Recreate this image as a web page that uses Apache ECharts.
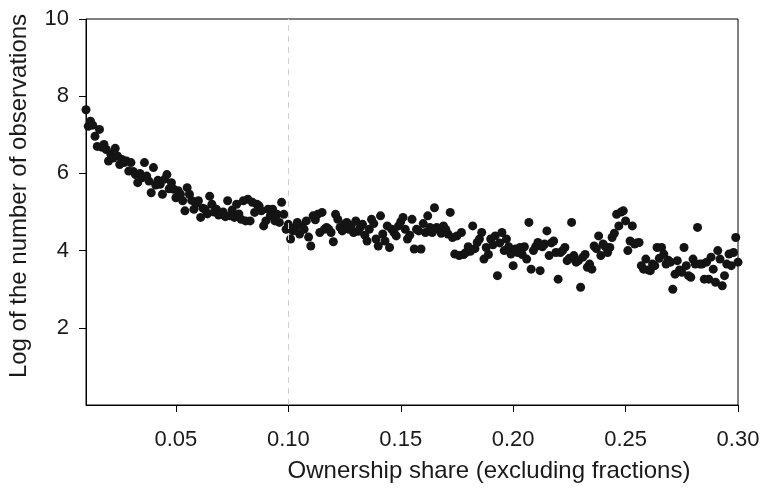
<!DOCTYPE html>
<html>
<head>
<meta charset="utf-8">
<script src="https://cdn.jsdelivr.net/npm/echarts@6/dist/echarts.min.js"></script>
<style>
  html, body { margin: 0; padding: 0; background: #fff; }
  #chart { width: 762px; height: 491px; }
</style>
</head>
<body>
<div id="chart"></div>
<script>
// Ownership shares from 0.010 to 0.300 in steps of 0.001
const shareStart = 0.010;
const shareStep = 0.001;

// Log of the number of observations at each ownership share
const logObs = [
  7.65, 7.22, 7.35, 7.25, 6.96, 6.70, 7.14, 6.68, 6.75, 6.62,
  6.32, 6.50, 6.40, 6.65, 6.45, 6.23, 6.36, 6.28, 6.32, 6.06,
  6.28, 6.05, 5.97, 5.76, 6.00, 5.89, 6.28, 5.93, 5.80, 5.50,
  6.15, 5.70, 5.82, 5.72, 5.46, 5.85, 5.97, 5.60, 5.76, 5.59,
  5.37, 5.55, 5.46, 5.29, 5.03, 5.63, 5.46, 5.30, 5.07, 5.22,
  5.29, 4.86, 5.10, 5.07, 4.95, 5.41, 5.20, 5.00, 5.07, 4.92,
  4.94, 5.00, 4.88, 5.29, 4.90, 5.05, 4.86, 5.20, 4.95, 4.81,
  5.29, 4.77, 5.33, 4.77, 5.25, 4.99, 5.20, 5.16, 5.03, 4.64,
  4.77, 5.07, 4.90, 5.07, 4.77, 4.94, 4.73, 5.25, 4.94, 4.55,
  4.68, 4.30, 4.51, 4.60, 4.73, 4.43, 4.64, 4.55, 4.77, 4.35,
  4.12, 4.90, 4.80, 4.94, 4.47, 4.99, 4.55, 4.60, 4.55, 4.47,
  4.23, 4.94, 4.81, 4.60, 4.51, 4.68, 4.73, 4.55, 4.65, 4.47,
  4.77, 4.50, 4.60, 4.68, 4.40, 4.25, 4.55, 4.81, 4.70, 4.30,
  4.12, 4.90, 4.43, 4.25, 4.64, 4.08, 4.55, 4.47, 4.38, 4.64,
  4.75, 4.86, 4.55, 4.30, 4.40, 4.81, 4.04, 4.55, 4.51, 4.04,
  4.70, 4.47, 4.90, 4.60, 4.47, 5.11, 4.60, 4.55, 4.45, 4.64,
  4.55, 4.43, 4.99, 4.34, 3.91, 4.38, 3.87, 4.47, 3.90, 3.95,
  4.10, 3.98, 4.64, 4.05, 4.21, 4.30, 4.47, 3.78, 4.08, 3.90,
  4.30, 4.15, 4.38, 3.35, 4.20, 4.47, 4.00, 4.30, 4.10, 3.91,
  3.61, 4.04, 3.95, 4.08, 3.90, 4.10, 3.78, 4.73, 3.52, 4.00,
  4.10, 4.21, 3.48, 4.10, 4.17, 4.51, 3.87, 4.20, 4.25, 3.95,
  3.26, 3.95, 4.00, 4.08, 3.74, 3.80, 4.73, 3.87, 3.70, 3.74,
  3.05, 3.83, 3.90, 3.57, 3.65, 3.52, 4.12, 4.05, 4.38, 3.87,
  4.17, 4.10, 3.95, 4.08, 4.34, 4.45, 4.94, 4.64, 5.00, 5.03,
  4.77, 4.00, 4.25, 4.64, 4.17, 4.20, 4.21, 3.61, 3.52, 3.78,
  3.50, 3.48, 3.65, 3.61, 4.08, 3.80, 4.08, 3.91, 3.65, 3.75,
  3.70, 3.00, 3.39, 3.74, 3.50, 3.44, 4.08, 3.61, 3.35, 3.31,
  3.78, 3.65, 4.60, 3.65, 3.65, 3.26, 3.70, 3.26, 3.83, 3.52,
  3.18, 4.00, 3.78, 3.09, 3.35, 3.65, 3.91, 3.61, 3.95, 4.34,
  3.70
];

// Axis tick values
const xTicks = [0.05, 0.10, 0.15, 0.20, 0.25, 0.30];
const yTicks = [2, 4, 6, 8, 10];
const cutoffShare = 0.10;

const points = logObs.map((v, i) => [+(shareStart + i * shareStep).toFixed(3), v]);

const font = 'Liberation Sans, Arial, Helvetica, sans-serif';

const chart = echarts.init(document.getElementById('chart'), null, { renderer: 'canvas' });
chart.setOption({
  animation: false,
  backgroundColor: '#ffffff',
  grid: {
    left: 86, right: 24, top: 19, bottom: 86,
    containLabel: false,
    outerBoundsMode: 'none',
    show: true, borderColor: '#000', borderWidth: 1, backgroundColor: 'transparent'
  },
  xAxis: {
    type: 'value',
    min: 0.01, max: 0.30,
    name: 'Ownership share (excluding fractions)',
    nameLocation: 'middle',
    nameGap: 54,
    nameTextStyle: { fontFamily: font, fontSize: 24, color: '#1a1a1a', padding: [0, 0, 0, 154] },
    axisLine: { show: true, onZero: false, lineStyle: { color: '#000', width: 1 } },
    axisTick: { show: true, length: 7, inside: false, customValues: xTicks, lineStyle: { color: '#000' } },
    axisLabel: {
      customValues: xTicks, margin: 24, fontFamily: font, fontSize: 22, color: '#1a1a1a',
      formatter: v => v.toFixed(2)
    },
    splitLine: { show: false }
  },
  yAxis: {
    type: 'value',
    min: 0, max: 10,
    name: 'Log of the number of observations',
    nameLocation: 'middle',
    nameGap: 55,
    nameTextStyle: { fontFamily: font, fontSize: 24, color: '#1a1a1a', padding: [0, 0, 0, 32] },
    axisLine: { show: true, onZero: false, lineStyle: { color: '#000', width: 1 } },
    axisTick: { show: true, length: 7, inside: false, customValues: yTicks, lineStyle: { color: '#000' } },
    axisLabel: {
      customValues: yTicks, margin: 17, fontFamily: font, fontSize: 22, color: '#1a1a1a'
    },
    splitLine: { show: false }
  },
  series: [{
    type: 'scatter',
    data: points,
    symbol: 'circle',
    symbolSize: 9,
    itemStyle: { color: '#141414', opacity: 1 },
    markLine: {
      silent: true,
      symbol: 'none',
      label: { show: false },
      lineStyle: { type: [6, 5], color: '#cfcfcf', width: 1 },
      data: [{ xAxis: cutoffShare }]
    }
  }]
});
</script>
</body>
</html>
